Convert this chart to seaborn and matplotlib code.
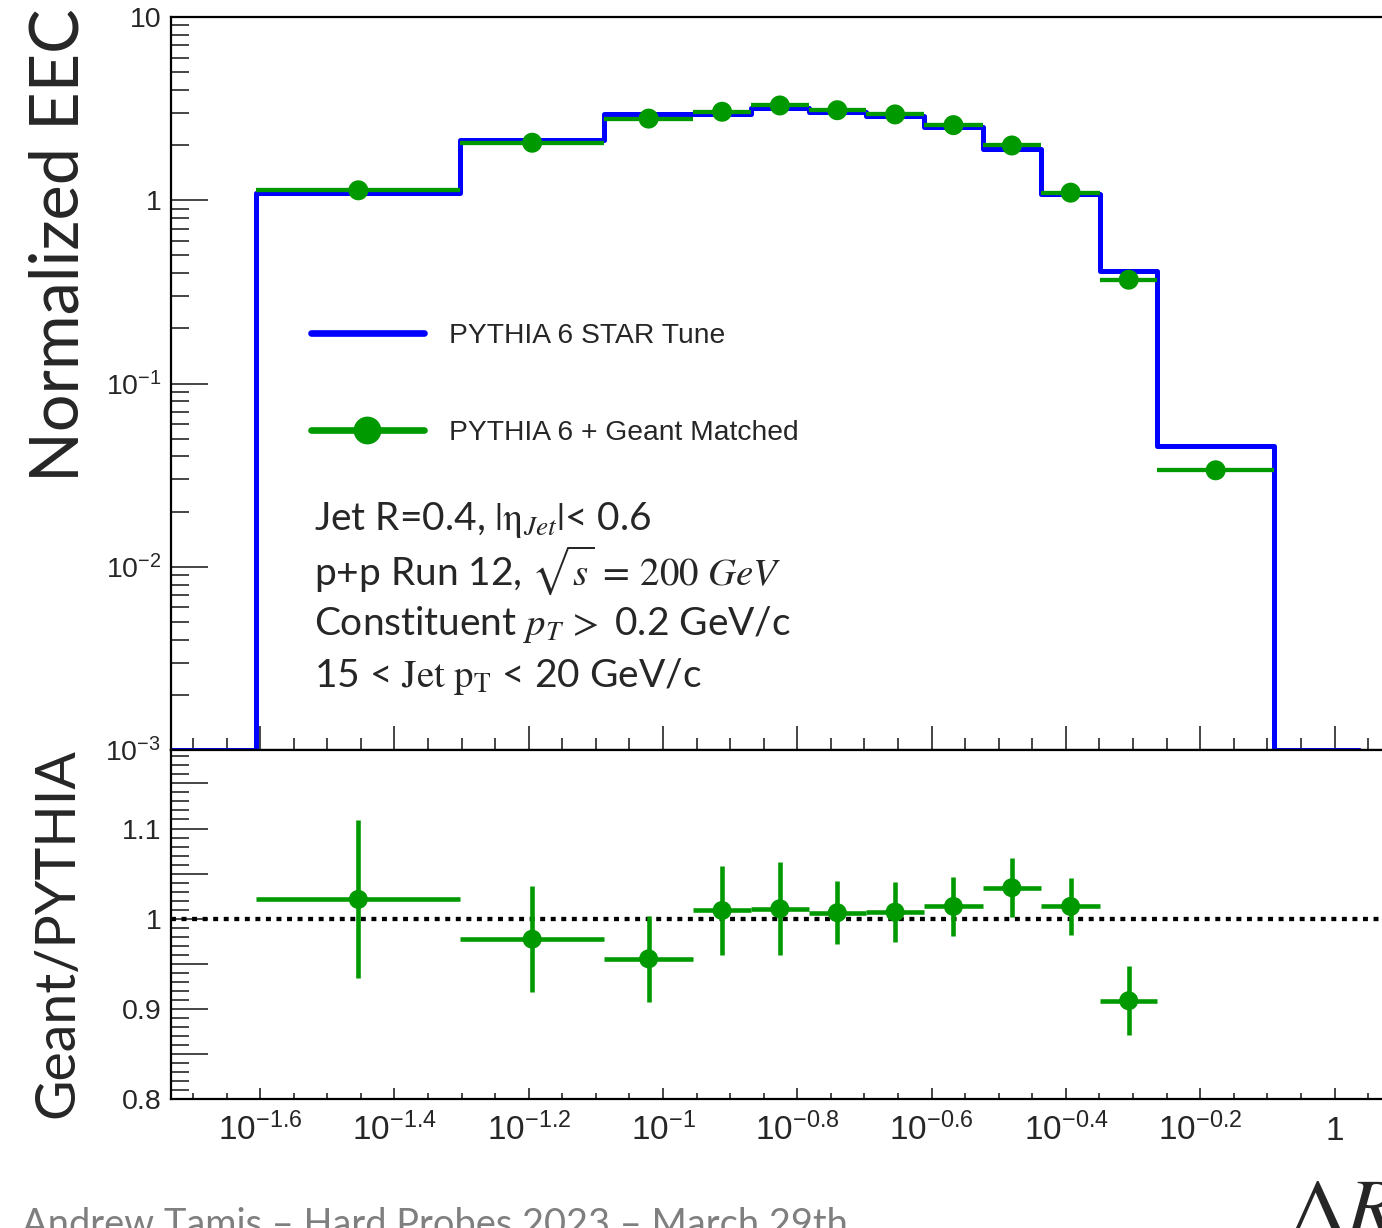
import numpy as np
import matplotlib
matplotlib.use("Agg")
import matplotlib.pyplot as plt
from matplotlib.ticker import FixedLocator, FixedFormatter, NullFormatter
from matplotlib.lines import Line2D
import seaborn as sns

# ---------------------------------------------------------------- data
# ΔR bin edges; the first and last bins are empty
bin_edges = [0.0150, 0.0248, 0.0499, 0.0817, 0.1109, 0.1352, 0.1648, 0.2005,
             0.2449, 0.2992, 0.3656, 0.4477, 0.5445, 0.8128, 1.088]
# PYTHIA 6 STAR tune, normalized EEC per bin (one value per bin above)
pythia_eec = [0.0, 1.10, 2.12, 2.96, 2.96, 3.20, 3.04, 2.88, 2.51, 1.91,
              1.078, 0.4125, 0.0457, 0.0]
# PYTHIA 6 + Geant, detector-level matched, for the 12 filled bins
geant_eec = [1.133, 2.06, 2.79, 3.04, 3.29, 3.10, 2.94, 2.57, 1.99, 1.10,
             0.3685, 0.0336]
# Geant / PYTHIA ratio and its uncertainty (first 11 filled bins)
ratio_vals = [1.0215, 0.9774, 0.9556, 1.0092, 1.0111, 1.0067, 1.0074,
              1.0137, 1.0344, 1.0137, 0.9092]
ratio_errs = [0.0875, 0.0587, 0.0476, 0.0496, 0.0513, 0.0350, 0.0333,
              0.0324, 0.0324, 0.0319, 0.0380]

x_major_exps = [-1.6, -1.4, -1.2, -1.0, -0.8, -0.6, -0.4, -0.2, 0.0]
x_major_labels = [r"$\mathregular{10^{-1.6}}$", r"$\mathregular{10^{-1.4}}$",
                  r"$\mathregular{10^{-1.2}}$", r"$\mathregular{10^{-1}}$",
                  r"$\mathregular{10^{-0.8}}$", r"$\mathregular{10^{-0.6}}$",
                  r"$\mathregular{10^{-0.4}}$", r"$\mathregular{10^{-0.2}}$", "1"]
y_top_major = [1e-3, 1e-2, 1e-1, 1.0, 10.0]
y_top_labels = [r"$\mathregular{10^{-3}}$", r"$\mathregular{10^{-2}}$",
                r"$\mathregular{10^{-1}}$", "1", "10"]
y_rat_major = [0.80, 0.85, 0.90, 0.95, 1.00, 1.05, 1.10, 1.15]
y_rat_labels = ["0.8", "", "0.9", "", "1", "", "1.1", ""]

legend_labels = ["PYTHIA 6 STAR Tune", "PYTHIA 6 + Geant Matched"]
info_lines = [
    r"Jet R=0.4, $|\mathrm{\eta}_{Jet}|$< 0.6",
    r"p+p Run 12, $\sqrt{s}\,=\,200\ GeV$",
    r"Constituent $p_T\,>$ 0.2 GeV/c",
    r"15 < $\mathrm{Jet\ p_T}$ < 20 GeV/c",
]
footer = "Andrew Tamis – Hard Probes 2023 – March 29th"

# ---------------------------------------------------------------- style
sns.set_style("ticks")
plt.rcParams["font.family"] = ["Liberation Sans", "DejaVu Sans"]
plt.rcParams["mathtext.fontset"] = "custom"
plt.rcParams["mathtext.rm"] = "Liberation Sans"
plt.rcParams["mathtext.it"] = "Liberation Sans:italic"
plt.rcParams["mathtext.bf"] = "Liberation Sans:bold"

BLUE = "#0000ff"
GREEN = "#009900"
W, H = 1382, 1228
XMIN, XMAX = 10 ** -1.7327, 10 ** 0.0707
YMIN, YMAX = 1e-3, 10.0

fig = plt.figure(figsize=(W / 100, H / 100), dpi=100)
fig.patch.set_facecolor("white")
ax_top = fig.add_axes([171 / W, 1 - 750 / H, (W - 171) / W, (750 - 17) / H])
ax_rat = fig.add_axes([171 / W, 1 - 1099.3 / H, (W - 171) / W, (1099.3 - 750) / H])

for ax in (ax_top, ax_rat):
    ax.set_xscale("log")
    ax.set_xlim(XMIN, XMAX)
    ax.set_facecolor("white")
    ax.spines["right"].set_visible(False)
    for s in ("left", "bottom", "top"):
        ax.spines[s].set_linewidth(1.6)
        ax.spines[s].set_color("black")
ax_top.set_yscale("log")
ax_top.set_ylim(YMIN, YMAX)
ax_rat.set_ylim(0.80, 1.187)

edges = np.array(bin_edges)
lo, hi = edges[1:-2], edges[2:-1]           # edges of the filled bins
centers = np.sqrt(lo * hi)

# ---- top panel: PYTHIA histogram (empty bins sit on the frame)
py = np.array(pythia_eec)
py_drawn = np.where(py > 0, py, YMIN)
step_y = np.append(py_drawn, py_drawn[-1])
sns.lineplot(x=edges, y=step_y, ax=ax_top, drawstyle="steps-post",
             color=BLUE, lw=3.6, estimator=None, sort=False, legend=False,
             zorder=2)

# ---- top panel: Geant points with bin-width bars
ax_top.hlines(geant_eec, lo, hi, color=GREEN, lw=3.1, zorder=3)
sns.scatterplot(x=centers, y=geant_eec, ax=ax_top, color=GREEN, s=207,
                edgecolor="none", linewidth=0, zorder=4, legend=False)

# ---- ratio panel
n_r = len(ratio_vals)
rv = np.array(ratio_vals)
re = np.array(ratio_errs)
ax_rat.axhline(1.0, color="black", lw=3.1, linestyle=(0, (1.15, 1.3)),
               dash_capstyle="butt", zorder=1)
ax_rat.hlines(rv, lo[:n_r], hi[:n_r], color=GREEN, lw=3.3, zorder=3)
ax_rat.vlines(centers[:n_r], rv - re, rv + re, color=GREEN, lw=3.3, zorder=3)
sns.scatterplot(x=centers[:n_r], y=rv, ax=ax_rat, color=GREEN, s=188,
                edgecolor="none", linewidth=0, zorder=4, legend=False)

# ---- ticks
x_major = [10 ** e for e in x_major_exps]
x_minor_exps = np.round(np.arange(-1.75, 0.1, 0.05), 2)
x_minor = [10 ** e for e in x_minor_exps if not np.any(np.isclose(e, x_major_exps))]
for ax in (ax_top, ax_rat):
    ax.xaxis.set_major_locator(FixedLocator(x_major))
    ax.xaxis.set_minor_locator(FixedLocator(x_minor))
    ax.xaxis.set_minor_formatter(NullFormatter())
ax_rat.xaxis.set_major_formatter(FixedFormatter(x_major_labels))
ax_top.xaxis.set_major_formatter(NullFormatter())

ax_top.yaxis.set_major_locator(FixedLocator(y_top_major))
ax_top.yaxis.set_major_formatter(FixedFormatter(y_top_labels))
y_top_minor = [m * 10.0 ** d for d in range(-3, 1) for m in range(2, 10)]
ax_top.yaxis.set_minor_locator(FixedLocator(y_top_minor))
ax_top.yaxis.set_minor_formatter(NullFormatter())

ax_rat.yaxis.set_major_locator(FixedLocator(y_rat_major))
ax_rat.yaxis.set_major_formatter(FixedFormatter(y_rat_labels))
ax_rat.yaxis.set_minor_locator(FixedLocator(np.round(np.arange(0.80, 1.186, 0.01), 2)))
ax_rat.yaxis.set_minor_formatter(NullFormatter())

ax_top.tick_params(axis="x", which="major", direction="in", length=17.6, width=1.2,
                   bottom=True, top=False, labelbottom=False)
ax_top.tick_params(axis="x", which="minor", direction="in", length=8.6, width=1.2,
                   bottom=True, top=False)
ax_rat.tick_params(axis="x", which="major", direction="in", length=7.7, width=1.2,
                   bottom=True, top=False, labelsize=24, pad=29.5)
ax_rat.tick_params(axis="x", which="minor", direction="in", length=4.1, width=1.2,
                   bottom=True, top=False)
for ax in (ax_top, ax_rat):
    ax.tick_params(axis="y", which="major", direction="in", length=26.4, width=1.2,
                   left=True, right=False, labelsize=20.5, pad=7)
    ax.tick_params(axis="y", which="minor", direction="in", length=13.3, width=1.2,
                   left=True, right=False)
# x labels of the ratio panel share a common baseline
for lbl in ax_rat.get_xticklabels():
    lbl.set_verticalalignment("baseline")
for ax in (ax_top, ax_rat):
    ax.set_xlabel("")
    ax.set_ylabel("")

# ---- legend
handles = [Line2D([], [], color=BLUE, lw=4.8),
           Line2D([], [], color=GREEN, lw=4.8, marker="o", ms=20, mec="none")]
ax_top.legend(handles, legend_labels, loc="upper left",
              bbox_to_anchor=((311 - 171) / (W - 171), (750 - 323) / 733),
              frameon=False, fontsize=20.3, handlelength=4.0, handletextpad=0.88,
              labelspacing=2.52, borderpad=0, borderaxespad=0)

# ---- info text
baselines = [530, 585, 635, 687]
for line, yb in zip(info_lines, baselines):
    fig.text(314 / W, 1 - yb / H, line, ha="left", va="baseline",
             fontsize=28, family="Lato", math_fontfamily="stix")

# ---- axis titles and footer
fig.text(60 / W, 1 - 8 / H, "Normalized EEC", rotation=90, ha="center", va="top",
         fontsize=48, family="Lato")
fig.text(58 / W, 1 - 748 / H, "Geant/PYTHIA", rotation=90, ha="center", va="top",
         fontsize=40, family="Lato")
fig.text(1288 / W, 1 - 1176 / H, r"$\Delta R$", ha="left", va="top",
         fontsize=58, math_fontfamily="stix")
fig.text(22 / W, 1 - 1236 / H, footer, ha="left", va="baseline",
         fontsize=27.4, family="Lato", color="#7f7f7f")

fig.savefig("out.png", dpi=100, facecolor="white")
